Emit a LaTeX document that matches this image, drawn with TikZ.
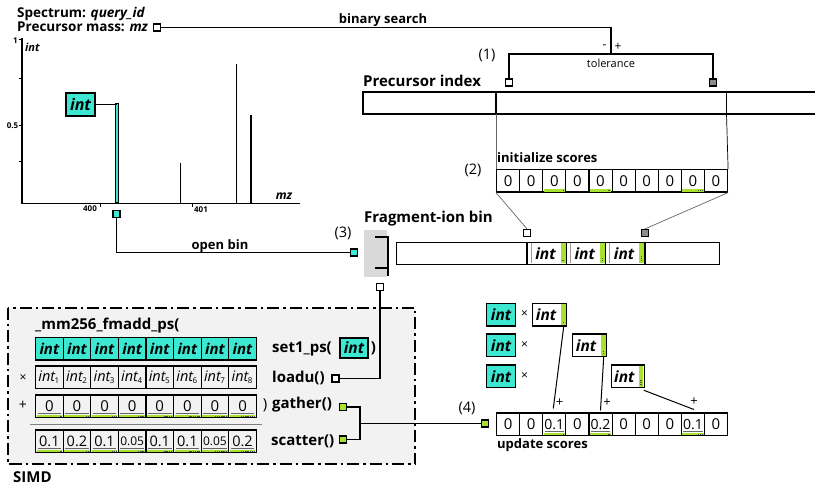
\documentclass[tikz,border=0pt]{standalone}
\usepackage{fontspec}
\setmainfont{Open Sans}
\usetikzlibrary{calc}
\definecolor{cy}{HTML}{3DE8D2}
\definecolor{gr}{HTML}{A6E22E}
\definecolor{simdbg}{HTML}{F2F2F2}
\definecolor{brk}{HTML}{D9D9D9}
\newcommand\fs[1]{\fontsize{#1}{#1}\selectfont}
\begin{document}
\begin{tikzpicture}[x=1pt,y=-1pt,
  sq/.style={draw, line width=1.2pt, fill=white, minimum size=7pt, inner sep=0pt},
  cell/.style={draw, line width=1.1pt, inner sep=0pt, anchor=north west, minimum height=22.5pt},
  lbl/.style={font=\bfseries\fs{13}, inner sep=0pt},
  hdr/.style={font=\bfseries\fs{15}, inner sep=0pt, anchor=base west},
  code/.style={font=\bfseries\fs{15}, inner sep=0pt},
  plain/.style={font=\fs{14.5}, inner sep=0pt},
  conn/.style={line width=1.2pt},
  thinc/.style={line width=0.7pt, black!60},
  iint/.style={font=\bfseries\itshape\fs{15.5}},
  greenbar/.style={fill=gr},
  dotc/.style={fill=black!70}
]
\useasboundingbox (0,0) rectangle (815,489);

% ---------- spectrum header
\node[anchor=base west, font=\bfseries\fs{13.5}, inner sep=0] (spec) at (17,18) {Spectrum: \textit{query\_id}};
\node[anchor=base west, font=\bfseries\fs{13.5}, inner sep=0] (pmass) at (17,31.5) {Precursor mass: \textit{mz}};
\node[sq] (psq) at (157,27.5) {};

% ---------- plot
\draw[line width=1.3pt] (22,38) -- (22,203.5) -- (300,203.5);
\foreach \t in {40,79,126,162} \draw[line width=1pt] (18.5,\t) -- (22,\t);
\node[font=\bfseries\fs{8}, inner sep=0] (y1) at (15.5,41) {1};
\node[font=\bfseries\fs{8}, inner sep=0] (y05) at (12.5,126) {0.5};
\draw[line width=1pt] (100.5,203) -- (100.5,207.5);
\draw[line width=1pt] (192,203) -- (192,207.5);
\node[font=\bfseries\fs{8}, inner sep=0] (x400) at (90,209) {400};
\node[font=\bfseries\fs{8}, inner sep=0] (x401) at (201,210) {401};
\node[font=\bfseries\itshape\fs{11}, anchor=west, inner sep=0] (yl) at (25,47) {int};
\node[font=\bfseries\itshape\fs{12}, inner sep=0] (xl) at (284,196) {mz};
\node[draw, fill=cy, line width=0.8pt, minimum width=3pt, minimum height=99pt, inner sep=0, anchor=south] (peak) at (116.5,203) {};
\draw[line width=1.5pt] (180.5,163) -- (180.5,203);
\draw[line width=1.5pt] (236.5,64) -- (236.5,203);
\draw[line width=1.5pt] (251,115) -- (251,203);
\node[draw, line width=1.3pt, fill=cy, minimum width=29pt, minimum height=23pt, font=\bfseries\itshape\fs{16}, inner sep=0] (pint) at (80.5,104.5) {int};
\draw[line width=0.8pt] (pint.east) -- (pint.east -| peak.north);

% ---------- open bin
\node[sq, fill=cy] (osq) at (116.5,214) {};
\node[sq, fill=cy] (bsq) at (354,252.5) {};
\draw[conn] (osq.south) |- (bsq.west);
\node[lbl, anchor=base] (oblbl) at (220,249.5) {open bin};
\node[plain] (n3) at (343,233) {(3)};

% ---------- binary search / tolerance
\coordinate (tol) at (611,54);
\node[sq] (ts1) at (509,82.5) {};
\node[sq, fill=black!45] (ts2) at (713,82.5) {};
\draw[conn] (psq.east) -| (tol);
\draw[conn] (ts1.north) |- (tol) -| (ts2.north);
\node[lbl, anchor=base] (bs) at (383,24) {binary search};
\node[font=\fs{12}, inner sep=0] (minus) at (604.5,47) {-};
\node[font=\fs{12}, inner sep=0] (plus) at (618,47) {+};
\node[font=\fs{11}, inner sep=0] (tolt) at (611,63.5) {tolerance};
\node[plain] (n1) at (487,55) {(1)};

% ---------- precursor index
\node[hdr] (pih) at (363,87) {Precursor index};
\draw[line width=1.3pt] (815,92) -- (363,92) -- (363,114) -- (815,114);
\draw[line width=1.3pt] (496,92) -- (496,114);
\draw[line width=1.3pt] (726.5,92) -- (726.5,114);

% ---------- initialize scores
\node[lbl, anchor=base west] (inits) at (497,163) {initialize scores};
\node[plain] (n2) at (473,170) {(2)};
\foreach \k in {0,...,9}{
  \node[cell, minimum width=23.1pt, fill=white, font=\fs{15}] (i\k) at ({496+23.1*\k},169) {0};
}
\foreach \k/\n in {2/1,4/2,8/3}{
  \fill[greenbar] ($(i\k.south west)+(1.5,-1)$) rectangle ($(i\k.south east)+(-1.5,-3.5)$);
  \foreach \q in {1,...,\n} \fill[dotc] ($(i\k.south east)+(-1.5-\q*1.8,-1.2)$) rectangle ++(1.1,-1.2);
}
\draw[thinc] (496,114) -- (i0.north west);
\draw[line width=0.7pt] (726.5,114) -- (i9.north east);

% ---------- fragment-ion bin
\node[hdr] (fih) at (364,223) {Fragment-ion bin};
\fill[brk] (364,230) rectangle (387,277);
\draw[line width=1.5pt] (375,237) -- (388,237) -- (388,276) (375,268) -- (388,268);
\node[draw, line width=1.3pt, minimum width=323pt, minimum height=22pt, anchor=north west, inner sep=0] (fbin) at (396,242) {};
\draw[line width=1.3pt] (527,242) -- (527,264);
\foreach \k/\n in {0/1,1/2,2/3}{
  \pgfmathsetmacro\xo{527+39.3*\k}
  \draw[black!40, line width=0.8pt] (\xo+4,243) -- (\xo+4,263);
  \fill[greenbar] (\xo+33.5,243) rectangle (\xo+38.5,263);
  \foreach \q in {1,...,\n} \fill[dotc] (\xo+35.4,{262.5-\q*1.8}) rectangle ++(1.1,-1.1);
  \draw[line width=1.3pt] (\xo+39.3,242) -- (\xo+39.3,264);
  \node[iint, inner sep=0] (fint\k) at (\xo+18.5,253.5) {int};
}
\node[sq] (fs1) at (527,233) {};
\node[sq, fill=black!45] (fs2) at (645,233) {};
\draw[thinc] (i0.south west) -- (fs1.north);
\draw[thinc] (i9.south east) -- (fs2.north);
\node[sq] (fsq) at (380,287) {};

% ---------- SIMD
\draw[line width=1.5pt, fill=simdbg, dash pattern=on 12pt off 4pt on 2.5pt off 4pt] (8,308) rectangle (415,464);
\node[font=\bfseries\fs{15}, inner sep=0, anchor=base west] (simd) at (13,482.5) {SIMD};
\node[code, anchor=base west] (fm) at (35,330) {\_mm256\_fmadd\_ps(};
\foreach \k in {0,...,7}{
  \pgfmathtruncatemacro\n{\k+1}
  \node[cell, minimum width=27.6pt, fill=cy, font=\bfseries\itshape\fs{15}] (a\k) at ({35+27.6*\k},337) {int};
  \node[cell, minimum width=27.6pt, font=\itshape\fs{14.5}] (b\k) at ({35+27.6*\k},365.5) {\kern-1pt int\kern-0.5pt\raisebox{-2.5pt}{\upshape\fs{8}\n}};
  \node[cell, minimum width=27.6pt, font=\fs{15}] (c\k) at ({35+27.6*\k},394.5) {0};
}
\foreach \k/\v in {0/0.1,1/0.2,2/0.1,3/0.05,4/0.1,5/0.1,6/0.05,7/0.2}{
  \node[cell, minimum width=27.6pt, font=\fs{14.5}] (d\k) at ({35+27.6*\k},429.5) {\ifnum\k=3 \fs{12}\fi\ifnum\k=6 \fs{12}\fi\v};
}
\foreach \r in {c,d}{
  \foreach \k in {0,...,7}{
    \pgfmathtruncatemacro\n{\k+1}
    \fill[greenbar] ($(\r\k.south west)+(1.5,-1)$) rectangle ($(\r\k.south east)+(-1.5,-3.5)$);
    \draw[black!60, line width=0.6pt] ($(\r\k.south west)+(2.5,-4.5)$) -- ($(\r\k.south east)+(-2.5,-4.5)$);
    \foreach \q in {1,...,\n} \fill[dotc] ($(\r\k.south east)+(-1.5-\q*1.8,-1.2)$) rectangle ++(1.1,-1.2);
  }
}
\node[font=\fs{12}, inner sep=0] (times) at (23,378) {×};
\node[font=\fs{14}, inner sep=0] (plusr) at (23,405) {+};
\node[font=\fs{15}, inner sep=0] (closep) at (265,405) {)};
\draw[black!50, line width=0.8pt] (30,424) -- (262,424);

\node[code, anchor=west] (set) at (272,349) {set1\_ps(};
\node[draw, line width=1.1pt, fill=cy, minimum width=28pt, minimum height=20pt, inner sep=0, iint] (sint) at (354,348) {int};
\node[code] (setc) at (373.5,348) {)};
\node[code, anchor=west] (ld) at (272,378) {loadu()};
\node[sq] (lsq) at (335.5,378.5) {};
\node[code, anchor=west] (ga) at (272,405) {gather()};
\node[sq, fill=gr] (gsq) at (343,407) {};
\node[code, anchor=west] (sc) at (271,441) {scatter()};
\node[sq, fill=gr] (ssq) at (343,439.5) {};
\draw[conn] (lsq.east) -| (fsq.south);
\coordinate (j) at (360,423.5);
\draw[conn] (gsq.east) -| (j) |- (ssq.east);

% ---------- update scores
\node[plain] (n4) at (467,408) {(4)};
\node[sq, fill=gr] (usq) at (485,423.5) {};
\draw[conn] (j) -- (usq.west);
\foreach \k/\v in {0/0,1/0,2/0.1,3/0,4/0.2,5/0,6/0,7/0,8/0.1,9/0}{
  \node[cell, minimum width=23.1pt, fill=white, font=\fs{15}] (u\k) at ({496+23.1*\k},412.5) {\ifnum\k=2 \fs{14}\fi\ifnum\k=4 \fs{14}\fi\ifnum\k=8 \fs{14}\fi\v};
}
\foreach \k/\n in {2/1,4/2,8/3}{
  \fill[greenbar] ($(u\k.south west)+(1.5,-1)$) rectangle ($(u\k.south east)+(-1.5,-3.5)$);
  \draw[black!60, line width=0.6pt] ($(u\k.south west)+(2.5,-4.5)$) -- ($(u\k.south east)+(-2.5,-4.5)$);
  \foreach \q in {1,...,\n} \fill[dotc] ($(u\k.south east)+(-1.5-\q*1.8,-1.2)$) rectangle ++(1.1,-1.2);
}
\node[lbl, anchor=base west] (ups) at (497,448) {update scores};

% ---------- multiplications
\foreach \r/\y/\xw/\ww/\n in {1/303/532/34/1,2/333.5/572/34/2,3/364.5/611/32.5/3}{
  \node[draw, line width=1.2pt, fill=cy, minimum width=29pt, minimum height=22.5pt, anchor=north west, inner sep=0, iint] (mc\r) at (486,\y) {int};
  \node[font=\fs{12}, inner sep=0] (mx\r) at (524.5,\y+11.5) {×};
  \node[draw, line width=1.2pt, fill=white, minimum width=\ww pt, minimum height=22.5pt, anchor=north west, inner sep=0] (m\r) at (\xw,\y) {};
  \fill[greenbar] ($(m\r.north east)+(-6,1.5)$) rectangle ($(m\r.south east)+(-1.5,-1.5)$);
  \foreach \q in {1,...,\n} \fill[dotc] ($(m\r.south east)+(-4.3,-1.5-\q*1.8)$) rectangle ++(1.1,-1.1);
  \node[iint, inner sep=0] (mt\r) at ($(m\r.center)+(-3.5,0)$) {int};
}
\draw[line width=1pt] ($(m1.south east)+(-3.5,0)$) -- ($(u2.north)+(-1,-4)$);
\draw[line width=1pt] ($(m2.south east)+(-3.5,0)$) -- ($(u4.north)+(0,-2)$);
\draw[line width=1pt] ($(m3.south east)+(-1,2)$) -- ($(u8.north)+(1,-3)$);
\node[font=\fs{13}, inner sep=0] (p1) at (559.5,402.5) {+};
\node[font=\fs{13}, inner sep=0] (p2) at (607,403) {+};
\node[font=\fs{13}, inner sep=0] (p3) at (694,402) {+};
\end{tikzpicture}
\end{document}
